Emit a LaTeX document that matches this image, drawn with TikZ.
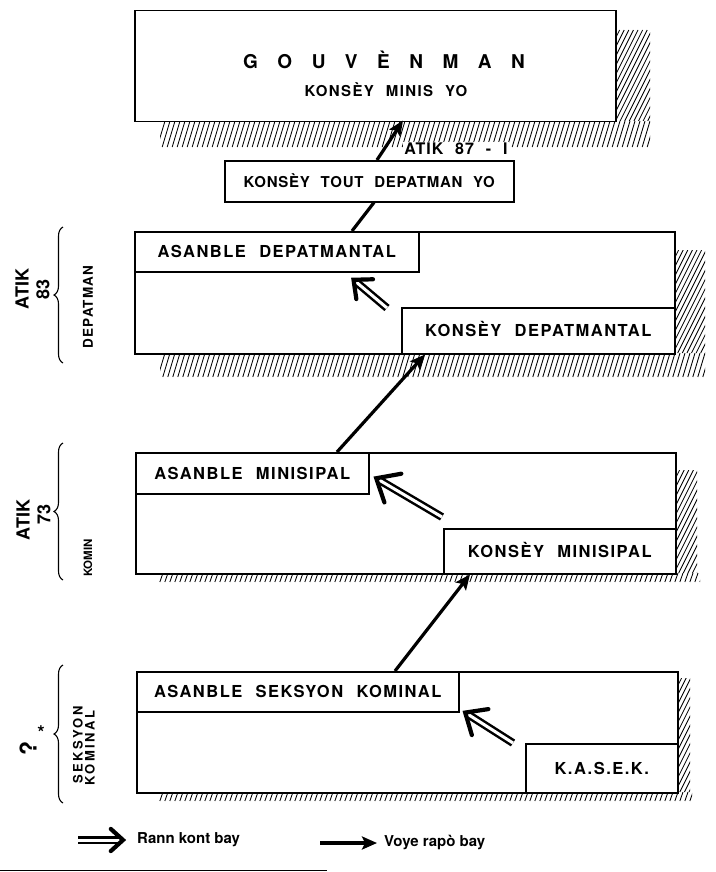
\documentclass[tikz,border=0pt]{standalone}
\usepackage{fontspec}
\setmainfont{TeX Gyre Heros}
\newfontfamily\bxf[LetterSpace=9,WordSpace=2.2]{TeX Gyre Heros}
\newfontfamily\lbf[LetterSpace=20]{TeX Gyre Heros}
\usetikzlibrary{arrows.meta,decorations.pathreplacing,calc}
\newcommand\gsp{\kern19.5pt}
\newcommand\myhatch[6]{%
  \begin{scope}
  \clip (#1,#2) rectangle (#3,#4);
  \pgfmathsetmacro\hH{#4-#2}%
  \pgfmathsetmacro\hA{#1-#5*\hH-#6}%
  \pgfmathtruncatemacro\hN{(#3-\hA)/#6+1}%
  \foreach \k in {0,...,\hN} {\draw[hatchline] ({\hA+\k*#6},#4) -- ++({#5*\hH},{-\hH});}
  \end{scope}}
\newcommand\accarrow[3]{%
  \draw[accshaft] (#1) -- ($(#2)!4pt!(#1)$);
  \draw[acchead] ($(#2)!#3!38:(#1)$) -- ($(#2)!2pt!(#1)$) -- ($(#2)!#3!-38:(#1)$);}
\tikzset{
  bigbox/.style={draw, line width=1.5pt, fill=white, inner sep=0pt, anchor=north west},
  box/.style={draw, line width=1.5pt, fill=white, inner sep=0pt, anchor=north west,
    text height=12pt, text depth=0pt, font=\bxf\bfseries\fontsize{16.5}{18}\selectfont},
  hatchline/.style={line width=0.85pt},
  rep/.style={line width=3.2pt, -{Stealth[length=15pt,width=13pt,inset=3pt]}},
  repline/.style={line width=3.2pt},
  accshaft/.style={double, double distance=3pt, line width=2.5pt},
  acchead/.style={line width=4.2pt, line cap=round, line join=miter},
  lbl/.style={font=\bfseries\fontsize{18}{18}\selectfont, rotate=90, inner sep=0pt},
  slbl/.style={font=\lbf\bfseries\fontsize{13}{13}\selectfont, rotate=90, inner sep=0pt},
  brc/.style={decorate, decoration={brace, amplitude=9pt}, line width=1.1pt},
  leg/.style={font=\bfseries\fontsize{15}{15}\selectfont, inner sep=0pt},
}
\begin{document}
\begin{tikzpicture}[x=1pt,y=-1pt]
\fill[white] (0,0) rectangle (715,872);
\useasboundingbox (0,0) rectangle (715,872);
% hatching
\myhatch{160}{121}{650}{147}{0.3}{5}
\myhatch{615}{30}{650}{121}{0.5}{4.6}
\myhatch{160}{353}{705}{377}{0.3}{5}
\myhatch{674}{250}{705}{353}{0.5}{4.6}
\myhatch{158}{573}{700}{582}{0.35}{5}
\myhatch{675}{470}{697}{573}{0.5}{4.6}
\myhatch{158}{792}{692}{801}{0.35}{5}
\myhatch{677}{678}{690}{792}{0.5}{4.6}
% government
\node[bigbox, minimum width=481pt, minimum height=111pt] (gov) at (134,10) {};
\node[font=\bfseries\fontsize{19}{20}\selectfont, inner sep=0pt] (govt) at (384,60)
  {G\gsp O\gsp U\gsp V\gsp È\gsp N\gsp M\gsp A\gsp N};
\node[font=\bxf\bfseries\fontsize{15}{16}\selectfont, inner sep=0pt] (govs) at (386,90) {KONSÈY MINIS YO};
\node[box, minimum width=289pt, minimum height=41pt, font=\bxf\bfseries\fontsize{15}{16}\selectfont\addfontfeature{LetterSpace=5}] (tout) at (224,160) {KONSÈY TOUT DEPATMAN YO};
\node[font=\bxf\bfseries\fontsize{16}{18}\selectfont\addfontfeature{LetterSpace=6}, fill=white, inner sep=1.5pt] (atik87) at (456,149) {ATIK 87 - I};
% departement
\node[bigbox, minimum width=540pt, minimum height=122pt] (dbig) at (134,231) {};
\node[box, minimum width=284pt, minimum height=40pt] (ad) at (134,231) {ASANBLE DEPATMANTAL};
\node[box, minimum width=273pt, minimum height=46pt] (kd) at (401,307) {KONSÈY DEPATMANTAL};
% komin
\node[bigbox, minimum width=540pt, minimum height=121pt] (kbig) at (135,452) {};
\node[box, minimum width=233pt, minimum height=41pt] (am) at (135,452) {ASANBLE MINISIPAL};
\node[box, minimum width=232pt, minimum height=45pt] (km) at (443,528) {KONSÈY MINISIPAL};
% seksyon
\node[bigbox, minimum width=541pt, minimum height=121pt] (sbig) at (136,671) {};
\node[box, minimum width=322pt, minimum height=40pt] (as) at (136,671) {ASANBLE SEKSYON KOMINAL};
\node[box, minimum width=152pt, minimum height=49pt] (kasek) at (525,743) {K.A.S.E.K.};
% report arrows
\draw[rep] ($(as.north west)+(259,0)$) -- ($(km.south west)+(27,0)$);
\draw[rep] ($(am.north west)+(202,0)$) -- ($(kd.south west)+(24,0)$);
\draw[repline] ($(ad.north west)+(218,0)$) -- ($(tout.south west)+(150,0)$);
\draw[rep] ($(tout.north west)+(153,0)$) -- ($(gov.south west)+(269,-2)$);
% accountability arrows
\coordinate (d1) at ($(kd.north west)+(-14,1)$);
\coordinate (d2) at ($(ad.south west)+(218,6)$);
\accarrow{d1}{d2}{21pt}
\coordinate (k1) at ($(km.north west)+(-1,-11)$);
\coordinate (k2) at ($(am.east)+(5,4)$);
\accarrow{k1}{k2}{27pt}
\coordinate (s1) at ($(kasek.north west)+(-12,0)$);
\coordinate (s2) at ($(as.south east)+(4,-1)$);
\accarrow{s1}{s2}{25pt}
% left labels
\draw[brc] (63,363) -- (63,227);
\draw[brc] (63,580) -- (63,443);
\draw[brc] (63,803) -- (63,665);
\node[lbl] (atik83) at (22,289) {ATIK};
\node[lbl] (n83) at (43,289) {83};
\node[slbl, font=\lbf\bfseries\fontsize{13.5}{14}\selectfont\addfontfeature{LetterSpace=8}] (dep) at (88,307) {DEPATMAN};
\node[lbl] (atik73) at (23,520) {ATIK};
\node[lbl] (n73) at (44,514) {73};
\node[slbl, font=\bfseries\fontsize{11.5}{12}\selectfont] (kom) at (88,558) {KOMIN};
\node[lbl, font=\bfseries\fontsize{23}{23}\selectfont] (q) at (28,748) {?};
\node[font=\bfseries\fontsize{19}{19}\selectfont, inner sep=0pt] (star) at (41,733) {*};
\node[slbl] (seks) at (78,745) {SEKSYON};
\node[slbl] (komi) at (90,748) {KOMINAL};
% legend
\coordinate (la) at (78,840);
\coordinate (lb) at (125,840);
\accarrow{la}{lb}{18pt}
\node[leg, anchor=west] (lt1) at (137,840) {Rann kont bay};
\coordinate (lc) at (320,843);
\coordinate (ld) at (377,843);
\draw[rep] (lc) -- (ld);
\node[leg, anchor=west] (lt2) at (384,842) {Voye rapò bay};
\coordinate (fa) at (0,870.5);
\coordinate (fb) at (327,870.5);
\draw[line width=1.3pt] (fa) -- (fb);
\end{tikzpicture}
\end{document}
